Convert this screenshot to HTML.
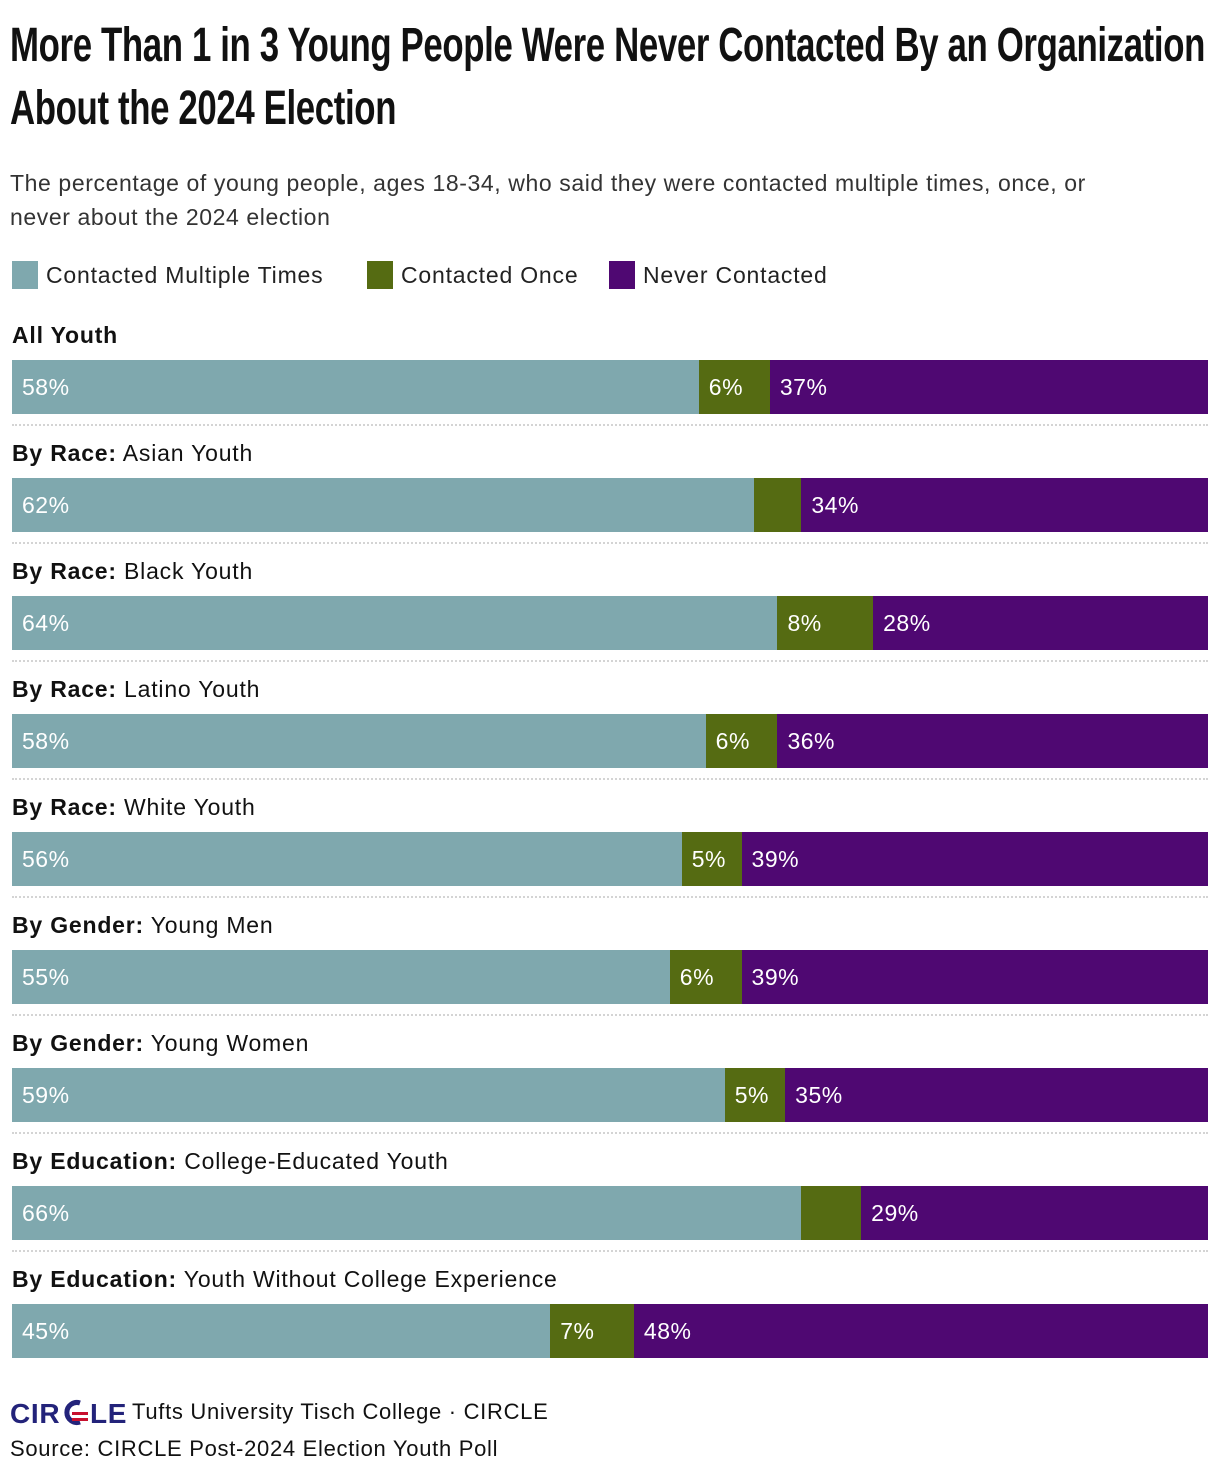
<!DOCTYPE html>
<html><head><meta charset="utf-8">
<style>
body{margin:0;width:1220px;height:1478px;background:#fff;font-family:"Liberation Sans",sans-serif;color:#111;position:relative;overflow:hidden}
.t{position:absolute;left:10px;font-family:"Liberation Sans",sans-serif;font-weight:bold;font-size:48px;line-height:62px;white-space:nowrap;transform-origin:left top;letter-spacing:-0.5px}
.sub{position:absolute;left:10px;top:166px;font-size:23px;line-height:34px;color:#333;width:1100px;letter-spacing:0.6px}
.leg{position:absolute;top:261px;font-size:23px;color:#222;display:flex;align-items:center;letter-spacing:0.8px}
.sw{width:26px;height:28px;margin-right:8px}
.lbl{position:absolute;left:12px;font-size:23px;color:#111;letter-spacing:0.8px}
.seg{position:absolute;height:54px;color:#fff;font-size:23px;line-height:54px;box-sizing:border-box;padding-left:10px;white-space:nowrap;overflow:hidden;letter-spacing:0.5px}
.sep{position:absolute;left:12px;width:1196px;border-top:2px dotted #d4d4d4}
.foot{position:absolute;left:10px;font-size:22px;color:#111;letter-spacing:0.7px}
</style></head><body>
<div class="t" id="t1" style="top:15px">More Than 1 in 3 Young People Were Never Contacted By an Organization</div>
<div class="t" id="t2" style="top:78px">About the 2024 Election</div>
<div class="sub">The percentage of young people, ages 18-34, who said they were contacted multiple times, once, or never about the 2024 election</div>
<div class="leg" style="left:12px"><div class="sw" style="background:#7fa8ae"></div>Contacted Multiple Times</div>
<div class="leg" style="left:367px"><div class="sw" style="background:#556b12"></div>Contacted Once</div>
<div class="leg" style="left:609px"><div class="sw" style="background:#4f0872"></div>Never Contacted</div>
<div id="chart"></div>
<div class="foot" style="top:1398px;display:flex;align-items:center">
<svg width="118" height="28" viewBox="0 0 118 28">
<text x="0" y="25" font-family="Liberation Sans" font-weight="bold" font-size="28" fill="#23237a">CIR</text>
<path d="M70 5 a10 10 0 1 0 0 19" fill="none" stroke="#23237a" stroke-width="5"/>
<rect x="62" y="14" width="16" height="3" fill="#c8102e"/><rect x="62" y="20" width="16" height="3" fill="#c8102e"/>
<text x="80" y="25" font-family="Liberation Sans" font-weight="bold" font-size="28" fill="#23237a">LE</text>
</svg><span style="margin-left:4px">Tufts University Tisch College · CIRCLE</span></div>
<div class="foot" style="top:1436px">Source: CIRCLE Post-2024 Election Youth Poll</div>
<script>
const categoriesBold=["All Youth","By Race:","By Race:","By Race:","By Race:","By Gender:","By Gender:","By Education:","By Education:"];
const categoriesRest=["","Asian Youth","Black Youth","Latino Youth","White Youth","Young Men","Young Women","College-Educated Youth","Youth Without College Experience"];
const multiple=[58,62,64,58,56,55,59,66,45];
const once=[6,4,8,6,5,6,5,5,7];
const never=[37,34,28,36,39,39,35,29,48];
const onceLabelShown=[true,false,true,true,true,true,true,false,true];
const colors=["#7fa8ae","#556b12","#4f0872"];
const segNames=["multiple","once","never"];
const t1=document.getElementById('t1'),t2=document.getElementById('t2');
const sc=1195/t1.getBoundingClientRect().width;
t1.style.transform='scaleX('+sc+')';t2.style.transform='scaleX('+sc+')';
const chart=document.getElementById('chart');
const X0=12,W=1196;
function rowY(i){return 335+i*118;}
for(let i=0;i<categoriesRest.length;i++){
  const y=rowY(i);
  const l=document.createElement('div');l.className='lbl';l.style.top=(y-13)+'px';
  l.innerHTML='<b>'+categoriesBold[i]+'</b> '+categoriesRest[i];
  
  
  chart.appendChild(l);
  const vals=[multiple[i],once[i],never[i]];
  const tot=vals.reduce((a,b)=>a+b,0);
  let x=X0;
  vals.forEach((v,k)=>{
    const w=v/tot*W;
    const s=document.createElement('div');s.className='seg';
    s.style.left=x+'px';s.style.top=(y+25)+'px';s.style.width=(w+0.5)+'px';s.style.background=colors[k];
    if(k!==1||onceLabelShown[i])s.textContent=v+'%';
    
    
    chart.appendChild(s);x+=w;
  });
  if(i<categoriesRest.length-1){
    const d=document.createElement('div');d.className='sep';d.style.top=(y+89)+'px';
    
    
    chart.appendChild(d);
  }
}
</script>
</body></html>
